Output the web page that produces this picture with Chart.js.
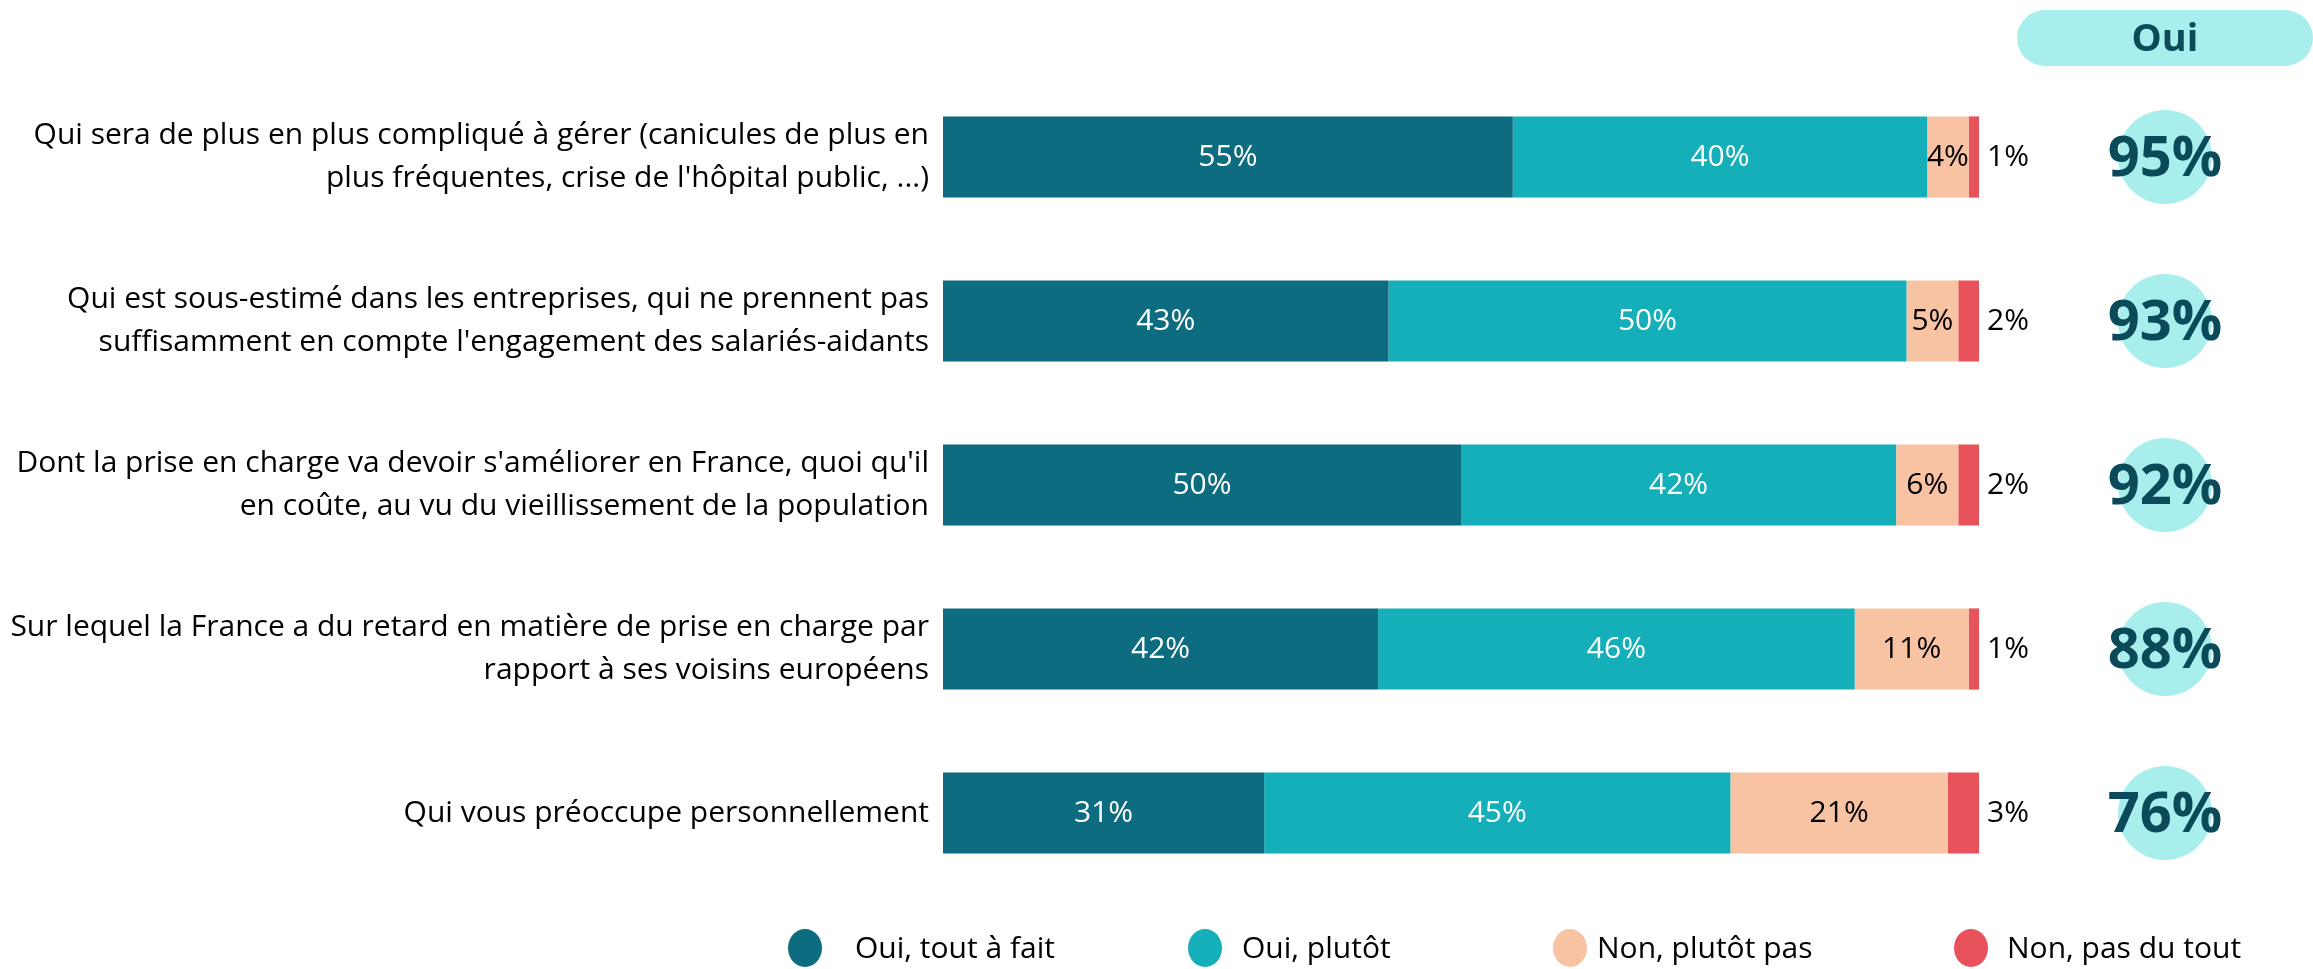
<!DOCTYPE html>
<html>
<head>
<meta charset="utf-8">
<script src="https://cdn.jsdelivr.net/npm/chart.js@4"></script>
<style>
  html, body { margin: 0; padding: 0; background: #fff; }
  #wrap { width: 2313px; height: 969px; }
</style>
</head>
<body>
<div id="wrap"><canvas id="ouiChart"></canvas></div>
<script>
// Libellés des questions (multi-lignes)
const questions = [
  ["Qui sera de plus en plus compliqué à gérer (canicules de plus en", "plus fréquentes, crise de l'hôpital public, ...)"],
  ["Qui est sous-estimé dans les entreprises, qui ne prennent pas", "suffisamment en compte l'engagement des salariés-aidants"],
  ["Dont la prise en charge va devoir s'améliorer en France, quoi qu'il", "en coûte, au vu du vieillissement de la population"],
  ["Sur lequel la France a du retard en matière de prise en charge par", "rapport à ses voisins européens"],
  "Qui vous préoccupe personnellement"
];

// Séries (en %)
const seriesNames = ["Oui, tout à fait", "Oui, plutôt", "Non, plutôt pas", "Non, pas du tout"];
const ouiToutAFait = [55, 43, 50, 42, 31];
const ouiPlutot = [40, 50, 42, 46, 45];
const nonPlutotPas = [4, 5, 6, 11, 21];
const nonPasDuTout = [1, 2, 2, 1, 3];
const ouiTotal = [95, 93, 92, 88, 76];

const colors = ["#0E6C81", "#14AFB8", "#F7C3A3", "#E8525A"];
const labelColors = ["#ffffff", "#ffffff", "#000000", "#000000"];
const FONT = "'Open Sans', sans-serif";

const ctx = document.getElementById("ouiChart").getContext("2d");

// Étiquettes de valeurs sur les barres
const valueLabels = {
  id: "valueLabels",
  afterDatasetsDraw(chart) {
    const c = chart.ctx;
    c.save();
    c.font = "30px " + FONT;
    c.textBaseline = "middle";
    chart.data.datasets.forEach((ds, di) => {
      const meta = chart.getDatasetMeta(di);
      meta.data.forEach((bar, i) => {
        const txt = ds.data[i] + "%";
        c.fillStyle = labelColors[di];
        if (di === 3) {
          c.textAlign = "left";
          c.fillText(txt, bar.x + 8, bar.y);
        } else {
          c.textAlign = "center";
          c.fillText(txt, (bar.x + bar.base) / 2, bar.y);
        }
      });
    });
    c.restore();
  }
};

// Colonne "Oui" à droite + légende
const ouiColumn = {
  id: "ouiColumn",
  afterDraw(chart) {
    const c = chart.ctx;
    const yScale = chart.scales.y;
    const cx = chart.chartArea.right + 186;
    c.save();
    // pastille d'en-tête
    const px = 2017, py = 10, pw = 296, ph = 56, r = 28;
    c.fillStyle = "#A7EEEC";
    c.beginPath();
    c.moveTo(px + r, py);
    c.lineTo(px + pw - r, py);
    c.arc(px + pw - r, py + r, r, -Math.PI / 2, Math.PI / 2);
    c.lineTo(px + r, py + ph);
    c.arc(px + r, py + r, r, Math.PI / 2, Math.PI * 1.5);
    c.closePath();
    c.fill();
    c.fillStyle = "#0A4A59";
    c.font = "bold 38px " + FONT;
    c.textAlign = "center";
    c.textBaseline = "middle";
    c.fillText("Oui", cx, py + ph / 2 + 2);

    // cercles + totaux
    ouiTotal.forEach((v, i) => {
      const y = yScale.getPixelForValue(i);
      c.fillStyle = "#A7EEEC";
      c.beginPath();
      c.arc(cx, y, 47, 0, Math.PI * 2);
      c.fill();
      c.fillStyle = "#0A4A59";
      c.font = "bold 56px " + FONT;
      c.fillText(v + "%", cx, y + 3);
    });

    // légende
    const legendCircleX = [805, 1205, 1570, 1971];
    const legendTextX = [855, 1242, 1597, 2007];
    const ly = 948;
    c.font = "30px " + FONT;
    c.textAlign = "left";
    chart.data.datasets.forEach((ds, di) => {
      c.fillStyle = ds.backgroundColor;
      c.beginPath();
      c.ellipse(legendCircleX[di], ly, 17, 19, 0, 0, Math.PI * 2);
      c.fill();
      c.fillStyle = "#000000";
      c.fillText(ds.label, legendTextX[di], ly + 1);
    });
    c.restore();
  }
};

const allSeries = [ouiToutAFait, ouiPlutot, nonPlutotPas, nonPasDuTout];

new Chart(ctx, {
  type: "bar",
  data: {
    labels: questions,
    datasets: allSeries.map((d, i) => ({
      label: seriesNames[i],
      data: d,
      backgroundColor: colors[i],
      borderWidth: 0,
      barPercentage: 0.495,
      categoryPercentage: 1
    }))
  },
  options: {
    indexAxis: "y",
    responsive: true,
    maintainAspectRatio: false,
    animation: false,
    layout: { padding: { top: 75, right: 334, left: 0, bottom: 0 } },
    plugins: {
      legend: { display: false },
      tooltip: { enabled: false }
    },
    scales: {
      x: {
        stacked: true,
        min: 0,
        max: 100,
        ticks: { display: false },
        grid: { display: false },
        border: { display: false },
        afterFit(scale) { scale.height = 74; }
      },
      y: {
        stacked: true,
        grid: { display: false, drawTicks: false },
        border: { display: false },
        ticks: {
          color: "#000000",
          padding: 14,
          font: { family: FONT, size: 30, lineHeight: 1.45 }
        },
        afterFit(scale) { scale.width = 943; }
      }
    }
  },
  plugins: [valueLabels, ouiColumn]
});
</script>
</body>
</html>
